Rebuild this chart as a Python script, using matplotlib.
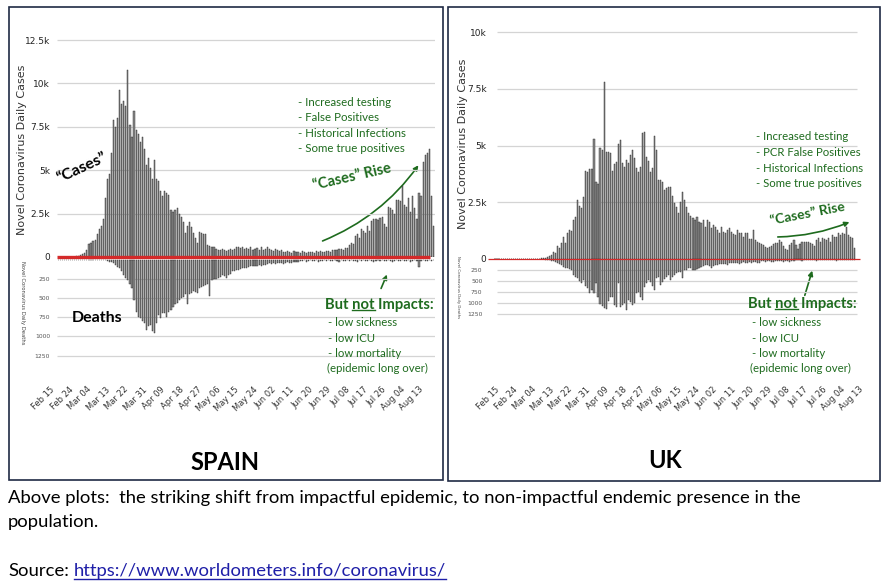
import matplotlib
matplotlib.use("Agg")
import matplotlib.pyplot as plt
import numpy as np
from matplotlib import font_manager
from matplotlib.patches import Rectangle, FancyArrowPatch
from matplotlib.lines import Line2D
from matplotlib.transforms import blended_transform_factory

W, H = 885, 587

# tick labels shared by both panels (one every 9 days from Feb 15)
date_labels = ["Feb 15", "Feb 24", "Mar 04", "Mar 13", "Mar 22", "Mar 31", "Apr 09",
               "Apr 18", "Apr 27", "May 06", "May 15", "May 24", "Jun 02", "Jun 11",
               "Jun 20", "Jun 29", "Jul 08", "Jul 17", "Jul 26", "Aug 04", "Aug 13"]
cases_ticks_spain = [0, 2500, 5000, 7500, 10000, 12500]
cases_labels_spain = ["0", "2.5k", "5k", "7.5k", "10k", "12.5k"]
cases_ticks_uk = [0, 2500, 5000, 7500, 10000]
cases_labels_uk = ["0", "2.5k", "5k", "7.5k", "10k"]
deaths_ticks = [250, 500, 750, 1000, 1250]
deaths_labels = ["250", "500", "750", "1000", "1250"]

# daily values, day 0 = Feb 15
spain_cases = [0, 0, 0, 0, 0, 0, 0, 0, 0, 0, 0, 0, 0,
               30, 60, 100, 150, 250, 400, 750, 800,
               900, 1000, 1300, 1600, 1800, 2200, 3400, 4500, 4800, 6000,
               7900, 7500, 8000, 9600, 8800, 9000, 8700, 10800,
               7600, 6900, 8400, 7300, 7100, 6600, 6900, 6200, 5300, 5700, 5100, 4500,
               5600, 4500, 4400, 3800, 3500, 3800, 3700, 3600, 2700, 2600,
               2700, 2800, 2500, 2300, 2000, 1400, 1800, 2000, 1700, 1400,
               1100, 800, 1450, 1400, 1350, 1300, 700, 650, 600, 550,
               450, 420, 380, 450, 400, 350, 420, 480, 400, 450,
               550, 580, 500, 600, 450, 520, 480, 550, 400, 450,
               500, 420, 550, 380, 450, 560, 480, 400, 350, 450,
               380, 320, 400, 300, 280, 350, 300, 250, 320, 280,
               300, 250, 320, 280, 250, 300,
               280, 300, 250, 320, 300, 350, 300, 280, 350, 320, 300, 380, 400, 420,
               450, 480, 420, 500, 520,
               700, 800, 750, 1200, 1300, 1100, 1600, 1500, 1400, 1800,
               1500, 2100, 2200, 2200, 2150, 2250, 2300, 1900, 1700, 2900,
               2800, 2700, 2500, 3300, 3300, 3200, 4100, 3000, 2900, 3400,
               2600, 3500, 2800, 2200, 3700, 3500, 5500, 5900, 6000, 6200, 3500, 1800]
spain_deaths = [0, 0, 0, 0, 0, 0, 0, 0, 0, 0, 0, 0, 0, 0, 0, 0, 0, 0, 0, 0, 0, 0, 0, 0, 0,
                1, 3, 5, 10,
                20, 30, 40, 60, 90, 100, 150, 200, 230, 260,
                320, 370, 520, 680, 740, 760, 800, 830, 915, 870,
                850, 930, 955, 820, 720, 760, 700, 700, 740, 680,
                650, 620, 575, 560, 530, 500, 485, 445, 575, 440,
                430, 400, 420, 430, 370, 350, 340, 330, 320, 465,
                265, 250, 245, 230, 220, 200, 210, 240, 190, 180,
                140, 150, 130, 125, 120, 110, 105, 100, 95, 85,
                80, 75, 80, 70, 75, 70, 60, 50,
                45, 55, 40, 50, 35, 45, 40, 50, 35, 30, 40, 35, 30, 25, 30,
                10, 15, 5, 20, 10, 5, 15, 10, 5, 20, 10, 15, 5, 10, 5, 15, 10, 5, 10, 20,
                5, 10, 15, 5, 10, 5, 10, 15, 20, 5, 10, 5, 15, 10, 5, 10, 20, 15, 5, 10,
                5, 10, 15, 5, 10, 20, 10, 5, 15, 10, 5, 10, 15, 5, 20, 10, 5, 15, 90, 10,
                5, 10, 15, 5, 10, 5]
uk_cases = [0, 0, 0, 0, 0, 0, 0, 0, 0, 0, 0, 0, 0, 0, 0, 0, 0, 0,
            2, 5, 10, 15, 20, 30, 45, 50,
            70, 120, 175, 320, 250, 570, 500, 690, 955, 700,
            1130, 1280, 1250, 1700, 1870, 2600, 2340, 2230, 2720, 3880,
            3820, 3950, 3970, 5290, 3400, 3290, 4910, 4800, 7820, 4730,
            4730, 4660, 3900, 4200, 4300, 5060, 5250, 4220, 4070, 4370,
            4220, 4600, 4800, 4440, 4030, 3850, 4070, 5540, 5590, 4500,
            4320, 3850, 4000, 5440, 4800, 3480, 3480, 3400, 3040, 3120,
            3160, 3190, 2800, 2450, 2310, 2010, 2500, 2960, 2600, 2310,
            2010, 1900, 1790, 1720, 1870, 1650, 1600, 1720, 1430, 1720,
            1650, 1350, 1500, 1400, 1280, 1130, 1430, 1200, 1130, 1280,
            1350, 1200, 1100, 1060, 1280, 1130, 1160, 985, 1130, 1130,
            870, 900, 1280, 840, 760, 720, 650, 620, 545, 500,
            545, 575, 650, 720, 700, 840, 760, 590, 450, 400,
            620, 690, 840, 620, 425, 650, 735, 735, 735, 735,
            690, 650, 590, 840, 910, 760, 940, 880, 840, 910,
            760, 1060, 950, 985, 1130, 1060, 1130, 1100, 1430, 1060,
            985, 910, 470]
uk_deaths = [0, 0, 0, 0, 0, 0, 0, 0, 0, 0, 0, 0, 0, 0, 0, 0, 0, 0, 0, 0, 0, 0, 0, 0, 0,
             5, 10, 15, 30,
             50, 60, 80, 100, 130, 170, 190, 205, 230, 243,
             356, 400, 432, 500, 546, 470, 600, 660, 758, 697,
             773, 546, 850, 1016, 1061, 1114, 1137, 950, 849, 849,
             1038, 1076, 546, 1091, 1038, 1000, 1152, 925, 980, 1038,
             1000, 773, 735, 850, 925, 622, 546, 470, 510, 600,
             697, 432, 395, 584, 508, 450, 395, 356, 470, 410,
             360, 318, 280, 300, 432, 250, 243, 205, 190, 243,
             243, 220, 200, 167, 150, 140, 129, 160, 205, 150,
             129, 120, 110, 106, 100, 110, 129, 90, 80, 95,
             76, 85, 100, 80, 70, 90, 76, 65, 85, 70, 60, 75, 80,
             50, 40, 60, 45, 38, 55, 65, 40, 50, 45, 38, 60, 50, 40, 55, 45, 38,
             20, 15, 25, 30, 15, 20, 10, 25, 20, 15, 30, 20, 10, 25, 15,
             20, 20, 10, 25, 15, 30, 20, 15, 10, 25, 20, 15, 20, 10, 15]

installed = {f.name for f in font_manager.fontManager.ttflist}
NARROW = "Liberation Sans Narrow" if "Liberation Sans Narrow" in installed else "DejaVu Sans"
ANNOT = "Lato" if "Lato" in installed else "DejaVu Sans"
GREEN = "#1e6b1e"
BAR_FACE = "#8c8c8c"
BAR_EDGE = "#262626"
GRID = "#d4d4d4"

fig = plt.figure(figsize=(W / 100, H / 100), dpi=100)
fig.patch.set_facecolor("white")


def px_axes(l, t, r, b):
    ax = fig.add_axes([l / W, 1 - b / H, (r - l) / W, (b - t) / H])
    ax.set_facecolor("none")
    for s in ax.spines.values():
        s.set_visible(False)
    return ax


def ftext(x, y, s, **kw):
    return fig.text(x / W, 1 - y / H, s, **kw)


def draw_panel(cases, deaths, l, r, x0, xs, top, zero_c, c_scale, c_ticks, c_labels,
               zero_d, d_scale, bottom, grid_l, grid_r, red_l, red_r, red_lw,
               pad_c, pad_d):
    xlim = ((l - x0) / xs, (r - x0) / xs)
    gx = ((grid_l - x0) / xs, (grid_r - x0) / xs)

    ax_c = px_axes(l, top, r, zero_c)
    ax_c.set_zorder(3)
    ax_c.set_xlim(*xlim)
    ax_c.set_ylim(0, (zero_c - top) / c_scale)
    ax_c.hlines(c_ticks[1:], *gx, color=GRID, lw=0.9, zorder=0)
    ax_c.bar(np.arange(len(cases)), cases, width=0.55, color=BAR_FACE,
             edgecolor=BAR_EDGE, linewidth=0.3, zorder=2)
    ax_c.plot([(red_l - x0) / xs, (red_r - x0) / xs], [0, 0], color="#d42a2a",
              lw=red_lw, clip_on=False, zorder=5, solid_capstyle="butt")
    ax_c.set_xticks([])
    ax_c.set_yticks(c_ticks)
    ax_c.set_yticklabels(c_labels, fontfamily=NARROW, fontsize=6.5, color="#222")
    ax_c.tick_params(axis="y", length=0, pad=pad_c)

    ax_d = px_axes(l, zero_c - 1, r, bottom)
    ax_d.set_zorder(2)
    ax_d.set_xlim(*xlim)
    ax_d.set_ylim((bottom - zero_d) / d_scale, (zero_c - 1 - zero_d) / d_scale)
    ax_d.hlines(deaths_ticks, *gx, color=GRID, lw=0.9, zorder=0)
    ax_d.bar(np.arange(len(deaths)), deaths, width=0.55, color=BAR_FACE,
             edgecolor=BAR_EDGE, linewidth=0.3, zorder=2)
    ax_d.set_xticks([])
    ax_d.set_yticks(deaths_ticks)
    ax_d.set_yticklabels(deaths_labels, fontsize=4.3, color="#555")
    ax_d.tick_params(axis="y", length=0, pad=pad_d)

    tr = blended_transform_factory(ax_d.transData, ax_d.transAxes)
    for i, lab in enumerate(date_labels):
        ax_d.text(i * 9, 0, lab, transform=tr, rotation=45, rotation_mode="anchor",
                  ha="right", va="top", fontsize=6, color="#333", clip_on=False)
    return ax_c, ax_d


# ---- SPAIN ----
draw_panel(spain_cases, spain_deaths, l=57, r=435.4, x0=50, xs=2.05,
           top=30, zero_c=257, c_scale=17.36 / 1000, c_ticks=cases_ticks_spain,
           c_labels=cases_labels_spain, zero_d=260, d_scale=19.1 / 250, bottom=385,
           grid_l=57, grid_r=435, red_l=57, red_r=430, red_lw=2.4, pad_c=5, pad_d=5)

# ---- UK ----
draw_panel(uk_cases, uk_deaths, l=488, r=861, x0=495, xs=2.02,
           top=25, zero_c=259, c_scale=22.67 / 1000, c_ticks=cases_ticks_uk,
           c_labels=cases_labels_uk, zero_d=259.3, d_scale=11 / 250, bottom=385,
           grid_l=497, grid_r=857, red_l=488, red_r=860, red_lw=0.9, pad_c=1, pad_d=4)

# panel frames
for (x1, y1, x2, y2) in [(9, 7, 443, 480), (448, 7, 880, 481)]:
    fig.add_artist(Rectangle((x1 / W, 1 - y2 / H), (x2 - x1) / W, (y2 - y1) / H,
                             transform=fig.transFigure, fill=False,
                             edgecolor="#1f2a44", lw=1.2))

# axis titles
ftext(22, 150, "Novel Coronavirus Daily Cases", rotation=90, ha="center", va="center",
      fontsize=8, color="#333")
ftext(463, 144, "Novel Coronavirus Daily Cases", rotation=90, ha="center", va="center",
      fontsize=8, color="#333")
ftext(22, 303, "Novel Coronavirus Daily Deaths", rotation=-90, ha="center", va="center",
      fontsize=3.8, color="#444")
ftext(458, 287, "Novel Coronavirus Daily Deaths", rotation=-90, ha="center", va="center",
      fontsize=2.8, color="#444")

# annotations
bold = dict(family=ANNOT, fontweight="bold")
ftext(82, 168, "\u201cCases\u201d", rotation=25, ha="center", va="center", fontsize=11.5,
      color="black", **bold)
ftext(97, 318, "Deaths", ha="center", va="center", fontsize=11.5, color="black", **bold)
ftext(225, 462, "SPAIN", ha="center", va="center", fontsize=17, color="black", **bold)
ftext(665, 460, "UK", ha="center", va="center", fontsize=17, color="black", **bold)

ftext(352, 177, "\u201cCases\u201d Rise", rotation=13, ha="center", va="center",
      fontsize=10.5, color=GREEN, **bold)
ftext(808, 214, "\u201cCases\u201d Rise", rotation=11, ha="center", va="center",
      fontsize=10, color=GREEN, **bold)

spain_reasons = ["- Increased testing", "- False Positives", "- Historical Infections",
                 "- Some true positives"]
uk_reasons = ["- Increased testing", "- PCR False Positives", "- Historical Infections",
              "- Some true positives"]
for i, s in enumerate(spain_reasons):
    ftext(298, 102.5 + i * 15.5, s, va="center", fontsize=8.3, color=GREEN, family=ANNOT)
for i, s in enumerate(uk_reasons):
    ftext(756, 137 + i * 15.5, s, va="center", fontsize=8.2, color=GREEN, family=ANNOT)

impacts = ["- low sickness", "- low ICU", "- low mortality", "(epidemic long over)"]
for i, s in enumerate(impacts):
    ftext(328 if i < 3 else 327, 323 + i * 15.3, s, va="center", fontsize=8.2,
          color=GREEN, family=ANNOT)
    ftext(752 if i < 3 else 750, 323 + i * 15.3, s, va="center", fontsize=8.2,
          color=GREEN, family=ANNOT)

renderer = fig.canvas.get_renderer()


def but_not(x, y, size):
    props = dict(va="center", ha="left", fontsize=size, color=GREEN, **bold)
    ftext(x, y, "But not Impacts:", **props)
    t1 = ftext(x, y, "But not", **props)
    b1 = t1.get_window_extent(renderer)
    t1.remove()
    t2 = ftext(x, y, "not", **props)
    b2 = t2.get_window_extent(renderer)
    t2.remove()
    yl = b1.y0 + 0.12 * b1.height
    fig.add_artist(Line2D([(b1.x1 - b2.width) / W, b1.x1 / W], [yl / H, yl / H],
                          transform=fig.transFigure, color=GREEN, lw=1.0))


but_not(325, 305, 10.6)
but_not(748, 304, 10.6)


def arrow(p, q, rad):
    fig.add_artist(FancyArrowPatch((p[0] / W, 1 - p[1] / H), (q[0] / W, 1 - q[1] / H),
                                   transform=fig.transFigure, arrowstyle="-|>",
                                   mutation_scale=7, color=GREEN, lw=1.2,
                                   connectionstyle=f"arc3,rad={rad}"))


arrow((320, 242), (420, 163), 0.15)
arrow((775, 237), (852, 221), 0.1)
arrow((380, 291), (388, 272), 0)
arrow((804, 298), (813, 268), 0)

# caption
cap = dict(family=ANNOT, fontsize=13.3, color="black", va="baseline", ha="left")
ftext(8, 503, "Above plots:  the striking shift from impactful epidemic, to non-impactful "
      "endemic presence in the", **cap)
ftext(8, 527, "population.", **cap)
ftext(8, 576, "Source:", **cap)
url = ftext(74, 576, "https://www.worldometers.info/coronavirus/",
            **{**cap, "color": "#1f1fa8"})
ub = url.get_window_extent(renderer)
fig.add_artist(Line2D([ub.x0 / W, ub.x1 / W], [1 - 578.5 / H, 1 - 578.5 / H],
                      transform=fig.transFigure, color="#1f1fa8", lw=1.0))

fig.savefig("out.png", dpi=100)
